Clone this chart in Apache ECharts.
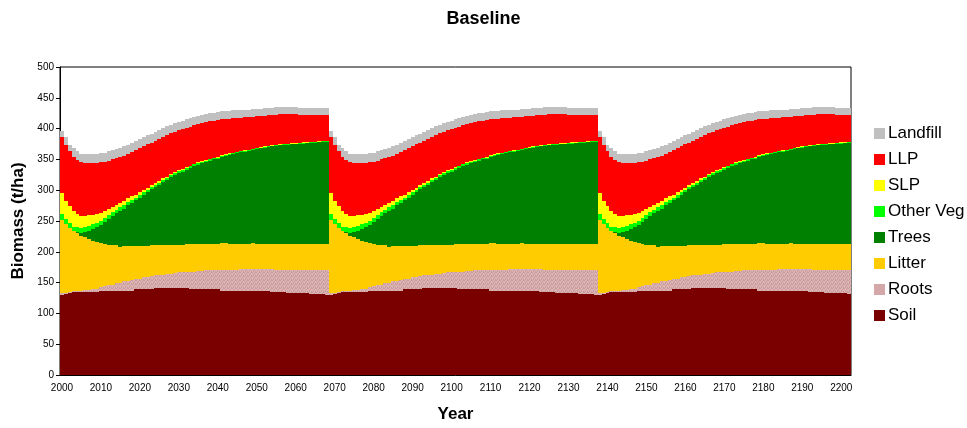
<!DOCTYPE html>
<html>
<head>
<meta charset="utf-8">
<title>Baseline</title>
<script src="https://cdn.jsdelivr.net/npm/echarts@6/dist/echarts.min.js"></script>
<style>
  html, body { margin: 0; padding: 0; background: #ffffff; }
  #chart { width: 967px; height: 428px; }
</style>
</head>
<body>
<div id="chart"></div>
<script>
// Carbon pools (t/ha) for one 69-year plantation rotation, year 0..68.
// The stand is clear-felled and replanted every 69 years, so each rotation
// follows the same trajectory.
const startYear = 2000;
const rotationLength = 69;
const lastYear = 2202;

const soil = [
  129.5, 131.5, 133.5, 134.5, 134.7, 134.7, 134.7, 134.7, 134.7, 134.7,
  135.8, 135.8, 135.8, 135.8, 137, 137, 137, 137, 137, 139,
  139, 139, 139, 139, 140.6, 140.6, 140.6, 140.6, 140.6, 140.6,
  140.6, 140.6, 140.6, 139, 139, 139, 139, 139, 139, 139,
  139, 137, 137, 137, 137, 137, 137, 137, 137, 137,
  137, 137, 137, 137, 134, 134, 134, 134, 132.6, 132.6,
  132.6, 132.6, 132.6, 132.6, 131, 131, 131, 131, 129.4
];
const roots = [
  3.1, 2.1, 1.2, 1.9, 2.3, 2.3, 3.3, 3.3, 4.9, 4.9,
  6.5, 8.7, 10.2, 10.2, 11.7, 13, 15, 15, 17.4, 17.5,
  17.5, 19.6, 19.6, 21.5, 21.9, 21.9, 21.9, 23, 23, 25.2,
  26.8, 26.8, 26.8, 28.4, 28.4, 30, 30, 31.6, 31.6, 31.6,
  31.6, 33.6, 33.6, 33.6, 33.6, 33.6, 35.7, 35.7, 35.7, 35.7,
  35.7, 35.7, 35.7, 35.7, 38.7, 37, 37, 37, 38.4, 38.4,
  38.4, 38.4, 38.4, 38.4, 40, 40, 40, 39, 40.6
];
const litter = [
  118.7, 111.3, 103.8, 97.8, 93.5, 89.2, 85.5, 82.8, 78.6, 77,
  72.1, 68.5, 65.8, 65, 62.3, 58.6, 57.6, 57.6, 55.2, 53.1,
  53.1, 51, 51, 50.2, 48.2, 48.2, 48.2, 47.1, 47.1, 44.9,
  43.3, 43.3, 44.9, 44.9, 44.9, 43.3, 43.3, 41.7, 41.7, 41.7,
  41.7, 43.4, 43.4, 41.7, 41.7, 41.7, 39.6, 39.6, 39.6, 40.8,
  40.1, 40.1, 40.1, 40.1, 40.1, 41.8, 41.8, 41.8, 41.8, 41.8,
  41, 41, 41, 41, 41, 41, 41, 42, 42
];
const trees = [
  0, 0, 0, 0.3, 2, 4.3, 8, 13.2, 18.8, 23.4,
  29.3, 35.5, 42, 47, 51.2, 57.9, 60.6, 66.4, 70.1, 73.8,
  78.5, 83.2, 86.9, 90.5, 94.9, 98.3, 102.7, 106.1, 110.4, 113.7,
  117, 119.2, 120.8, 124, 127.2, 129.4, 131.6, 133.7, 135.8, 137.9,
  139, 139.9, 141.4, 145.3, 146.3, 147.9, 149.4, 150.5, 151.5, 151.9,
  154.2, 155.2, 156.3, 157.3, 158.3, 158.9, 159.9, 160.4, 160.9, 161.4,
  162.7, 163.2, 163.7, 164.2, 164.7, 165.2, 165.7, 166.2, 166.7
];
const otherVeg = [
  10, 8, 7.5, 6.5, 7.5, 8, 8, 8, 7.5, 7,
  6.8, 6.5, 6.2, 6, 5.8, 5.5, 5.3, 5, 4.8, 4.6,
  4.4, 4.2, 4, 3.8, 3.6, 3.4, 3.2, 3, 2.9, 2.8,
  2.7, 2.6, 2.5, 2.4, 2.3, 2.2, 2.1, 2, 1.9, 1.8,
  1.7, 1.6, 1.6, 1.5, 1.5, 1.4, 1.4, 1.3, 1.3, 1.2,
  1.2, 1.2, 1.1, 1.1, 1.1, 1, 1, 1, 1, 1,
  1, 1, 1, 1, 1, 1, 1, 1, 1
];
const slp = [
  34, 30, 28, 26, 22, 20, 18.5, 17, 15.5, 14,
  12.5, 11, 10, 9, 8, 7, 6.5, 6, 5.5, 5,
  4.5, 4, 3.5, 3, 2.8, 2.6, 2.4, 2.2, 2, 1.8,
  1.6, 1.5, 1.4, 1.3, 1.2, 1.1, 1, 1, 1, 1,
  1, 1, 1, 0.9, 0.9, 0.9, 0.9, 0.9, 0.9, 0.9,
  0.8, 0.8, 0.8, 0.8, 0.8, 0.8, 0.8, 0.8, 0.8, 0.8,
  0.8, 0.8, 0.8, 0.8, 0.8, 0.8, 0.8, 0.8, 0.8
];
const llp = [
  90.5, 90.5, 90, 87.5, 86.5, 86.5, 86, 85, 84, 83.5,
  82, 80, 78, 77, 76, 75, 74, 72, 72, 72,
  71, 70, 70.2, 69.2, 68.4, 68.5, 67.6, 67.7, 66.3, 65.9,
  65, 65.1, 64.2, 63.3, 62.4, 62.5, 62.1, 61.7, 60.8, 59.9,
  60, 58.6, 57.7, 56.3, 55.9, 55, 54, 53.5, 52.6, 51.6,
  50.7, 50.2, 49.8, 49.3, 48.9, 49, 48.5, 48, 47.5, 47,
  46.5, 45.2, 44.7, 44.3, 43.8, 43.4, 42.9, 42.5, 42
];
const landfill = [
  10.5, 12.5, 9, 13.5, 14.5, 14, 14.5, 14.5, 14.5, 14.5,
  15, 15, 15, 15, 15, 15, 15, 15, 15, 15,
  15, 15, 14.8, 14.8, 14.6, 14.5, 14.4, 14.3, 14.2, 14.1,
  14, 13.9, 13.8, 13.7, 13.6, 13.5, 13.4, 13.3, 13.2, 13.1,
  13, 12.9, 12.8, 12.7, 12.6, 12.5, 12.5, 12.5, 12.4, 12.4,
  12.3, 12.3, 12.2, 12.2, 12.1, 12, 12, 12, 12, 12,
  12, 11.8, 11.8, 11.7, 11.7, 11.6, 11.6, 11.5, 11.5
];

const yTicks = { min: 0, max: 500, interval: 50 };

// Years on the category axis
const years = [];
for (let y = startYear; y <= lastYear; y++) years.push(String(y));

// Fine speckled fill for the roots pool
function rootsPattern() {
  const c = document.createElement('canvas');
  c.width = 4; c.height = 4;
  const g = c.getContext('2d');
  g.fillStyle = '#dcb4b4';
  g.fillRect(0, 0, 4, 4);
  g.fillStyle = '#c99a9a';
  [[0,0],[2,1],[1,2],[3,3],[3,0],[1,3]].forEach(([x, y]) => g.fillRect(x, y, 1, 1));
  return { image: c, repeat: 'repeat' };
}

// Stacking order, bottom to top
const pools = [
  { name: 'Soil',      data: soil,      color: '#7a0000' },
  { name: 'Roots',     data: roots,     color: rootsPattern(), legendColor: '#d4a8a8' },
  { name: 'Litter',    data: litter,    color: '#ffcc00' },
  { name: 'Trees',     data: trees,     color: '#008000' },
  { name: 'Other Veg', data: otherVeg,  color: '#00ff00' },
  { name: 'SLP',       data: slp,       color: '#ffff00' },
  { name: 'LLP',       data: llp,       color: '#ff0000' },
  { name: 'Landfill',  data: landfill,  color: '#c0c0c0' }
];

// Each year's stacked segment for every pool: [yearIndex, bottom, top, amount]
const runningTop = years.map(() => 0);
const stackedRows = pools.map(p => years.map((_, i) => {
  const amount = p.data[i % rotationLength];
  const bottom = runningTop[i];
  runningTop[i] = bottom + amount;
  return [i, bottom, runningTop[i], amount];
}));

// Year columns snapped to whole pixels so neighbouring columns join cleanly
function renderColumn(fill) {
  return function (params, api) {
    const i = api.value(0);
    const lo = api.coord([i, api.value(1)]);
    const hi = api.coord([i, api.value(2)]);
    const band = api.size([1, 0])[0];
    const x0 = Math.round(lo[0] - band / 2);
    const x1 = Math.round(lo[0] + band / 2);
    const y0 = Math.round(hi[1]);
    const y1 = Math.round(lo[1]);
    if (y1 <= y0) return null;
    return {
      type: 'rect',
      shape: { x: x0, y: y0, width: x1 - x0, height: y1 - y0 },
      style: { fill: fill }
    };
  };
}

const font = 'Arial, "Liberation Sans", Helvetica, sans-serif';
const chart = echarts.init(document.getElementById('chart'), null, { renderer: 'canvas' });

chart.setOption({
  animation: false,
  backgroundColor: '#ffffff',
  title: {
    text: 'Baseline',
    left: 'center',
    top: 5,
    textStyle: { fontFamily: font, fontSize: 18, fontWeight: 'bold', color: '#000' }
  },
  legend: {
    orient: 'vertical',
    left: 869,
    top: 120,
    itemWidth: 11,
    itemHeight: 11,
    itemGap: 9,
    icon: 'rect',
    data: ['Landfill', 'LLP', 'SLP', 'Other Veg', 'Trees', 'Litter', 'Roots', 'Soil'],
    textStyle: { fontFamily: font, fontSize: 17, color: '#000', padding: [0, 0, 0, -2] }
  },
  grid: {
    left: 60, right: 116, top: 67, bottom: 49,
    show: true, borderColor: '#000', borderWidth: 1, backgroundColor: '#ffffff'
  },
  xAxis: {
    type: 'category',
    data: years,
    name: 'Year',
    nameLocation: 'middle',
    nameGap: 31,
    nameTextStyle: { fontFamily: font, fontSize: 17, fontWeight: 'bold', color: '#000' },
    axisLine: { lineStyle: { color: '#000', width: 1 } },
    axisTick: { length: 4, interval: (i) => i % 10 === 0, lineStyle: { color: '#000' } },
    axisLabel: {
      interval: (i) => i % 10 === 0,
      fontFamily: font, fontSize: 10, color: '#000', margin: 8
    },
    splitLine: { show: false }
  },
  yAxis: {
    type: 'value',
    min: yTicks.min, max: yTicks.max, interval: yTicks.interval,
    name: 'Biomass (t/ha)',
    nameLocation: 'middle',
    nameGap: 33,
    nameTextStyle: { fontFamily: font, fontSize: 17, fontWeight: 'bold', color: '#000' },
    axisLine: { show: true, lineStyle: { color: '#000', width: 1 } },
    axisTick: { show: true, length: 4, lineStyle: { color: '#000' } },
    axisLabel: { fontFamily: font, fontSize: 10, color: '#000', margin: 6 },
    splitLine: { show: false }
  },
  series: pools.map((p, k) => ({
    name: p.name,
    type: 'custom',
    renderItem: renderColumn(p.color),
    encode: { x: 0, y: [1, 2] },
    data: stackedRows[k],
    itemStyle: { color: p.legendColor || p.color },
    silent: true
  }))
});
</script>
</body>
</html>
